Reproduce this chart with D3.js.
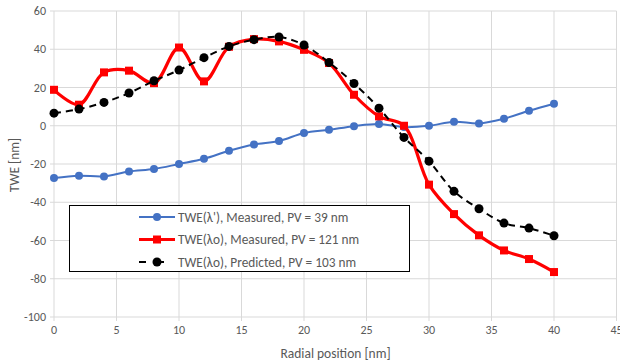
<!DOCTYPE html>
<html><head><meta charset="utf-8">
<script src="https://cdn.jsdelivr.net/npm/d3@7"></script>
<style>body{margin:0;background:#fff}svg{display:block}text{font-family:Carlito,"Open Sans","Noto Sans",sans-serif}</style>
</head><body><svg id="c" width="620" height="364"></svg>
<script>
const xVals = [0,2,4,6,8,10,12,14,16,18,20,22,24,26,28,30,32,34,36,38,40];
const blueMeasured = [-27.3,-26.1,-26.5,-23.9,-22.6,-20.0,-17.3,-13.1,-9.8,-8.0,-3.8,-2.1,-0.2,0.9,-0.7,0.0,2.1,1.2,3.7,7.8,11.5];
const redMeasured = [18.8,11.0,27.9,28.8,22.3,40.9,23.2,41.3,45.3,44.1,39.7,32.8,16.2,4.9,0.0,-30.8,-46.2,-57.3,-65.2,-69.7,-76.5];
const blackPredicted = [6.6,8.7,12.2,17.1,23.5,29.1,35.6,41.5,45.0,46.4,42.2,33.1,22.1,9.2,-6.1,-18.5,-34.3,-43.4,-50.9,-53.5,-57.5];
const xTicks = [0,5,10,15,20,25,30,35,40,45];
const yTicks = [-100,-80,-60,-40,-20,0,20,40,60];
const seriesNames = ["TWE(λ'), Measured, PV = 39 nm","TWE(λo), Measured, PV = 121 nm","TWE(λo), Predicted, PV = 103 nm"];

const svg = d3.select("#c");
const x = d3.scaleLinear().domain([0,45]).range([54,616.5]);
const y = d3.scaleLinear().domain([-100,60]).range([317,11]);
const grid = "#d9d9d9", txt = "#595959";

svg.append("g").selectAll("line").data(xTicks).join("line")
  .attr("x1",d=>x(d)).attr("x2",d=>x(d)).attr("y1",y(60)).attr("y2",y(-100)+4)
  .attr("stroke",grid).attr("stroke-width",1);
svg.append("g").selectAll("line").data(yTicks).join("line")
  .attr("x1",x(0)-4).attr("x2",x(45)).attr("y1",d=>y(d)).attr("y2",d=>y(d))
  .attr("stroke",grid).attr("stroke-width",1);

svg.append("g").selectAll("text").data(yTicks).join("text")
  .attr("x",46).attr("y",d=>y(d)+4).attr("text-anchor","end")
  .attr("font-size",12).attr("fill",txt).text(d=>d);
svg.append("g").selectAll("text").data(xTicks).join("text")
  .attr("x",d=>x(d)).attr("y",334).attr("text-anchor","middle")
  .attr("font-size",12).attr("fill",txt).text(d=>d);
svg.append("text").attr("x",335.5).attr("y",358).attr("text-anchor","middle")
  .attr("font-size",13.5).attr("fill",txt).text("Radial position [nm]");
svg.append("text").attr("transform","translate(19,"+165+") rotate(-90)").attr("text-anchor","middle")
  .attr("font-size",13.5).attr("fill",txt).text("TWE [nm]");

function pts(arr){return xVals.map((v,i)=>[v,arr[i]]);}
const lineSm = d3.line().x(d=>x(d[0])).y(d=>y(d[1])).curve(d3.curveCatmullRom.alpha(0.5));

// blue
svg.append("path").attr("d",lineSm(pts(blueMeasured))).attr("fill","none").attr("stroke","#4472c4").attr("stroke-width",2);
svg.append("g").selectAll("circle").data(pts(blueMeasured)).join("circle")
  .attr("cx",d=>x(d[0])).attr("cy",d=>y(d[1])).attr("r",4).attr("fill","#4472c4");
// red
svg.append("path").attr("d",lineSm(pts(redMeasured))).attr("fill","none").attr("stroke","#ff0000").attr("stroke-width",3.2);
svg.append("g").selectAll("rect").data(pts(redMeasured)).join("rect")
  .attr("x",d=>x(d[0])-4).attr("y",d=>y(d[1])-4).attr("width",8).attr("height",8).attr("fill","#ff0000");
// black
svg.append("path").attr("d",lineSm(pts(blackPredicted))).attr("fill","none").attr("stroke","#000").attr("stroke-width",2).attr("stroke-dasharray","7,5");
svg.append("g").selectAll("circle").data(pts(blackPredicted)).join("circle")
  .attr("cx",d=>x(d[0])).attr("cy",d=>y(d[1])).attr("r",4.5).attr("fill","#000");

// legend
const lg = svg.append("g");
lg.append("rect").attr("x",69.5).attr("y",205.5).attr("width",340).attr("height",66).attr("fill","#fff").attr("stroke","#000").attr("stroke-width",1);
const rows = [217,239.5,262];
const lx1 = 139, lx2 = 175, lm = 157;
lg.append("line").attr("x1",lx1).attr("x2",lx2).attr("y1",rows[0]).attr("y2",rows[0]).attr("stroke","#4472c4").attr("stroke-width",2);
lg.append("circle").attr("cx",lm).attr("cy",rows[0]).attr("r",4).attr("fill","#4472c4");
lg.append("line").attr("x1",lx1).attr("x2",lx2).attr("y1",rows[1]).attr("y2",rows[1]).attr("stroke","#ff0000").attr("stroke-width",3.2);
lg.append("rect").attr("x",lm-4).attr("y",rows[1]-4).attr("width",8).attr("height",8).attr("fill","#ff0000");
lg.append("line").attr("x1",lx1).attr("x2",lx2).attr("y1",rows[2]).attr("y2",rows[2]).attr("stroke","#000").attr("stroke-width",2).attr("stroke-dasharray","7,11");
lg.append("circle").attr("cx",lm).attr("cy",rows[2]).attr("r",4.5).attr("fill","#000");
lg.selectAll("text").data(seriesNames).join("text")
  .attr("x",178).attr("y",(d,i)=>rows[i]+4.5).attr("font-size",13.3).attr("fill",txt).text(d=>d);
</script></body></html>
